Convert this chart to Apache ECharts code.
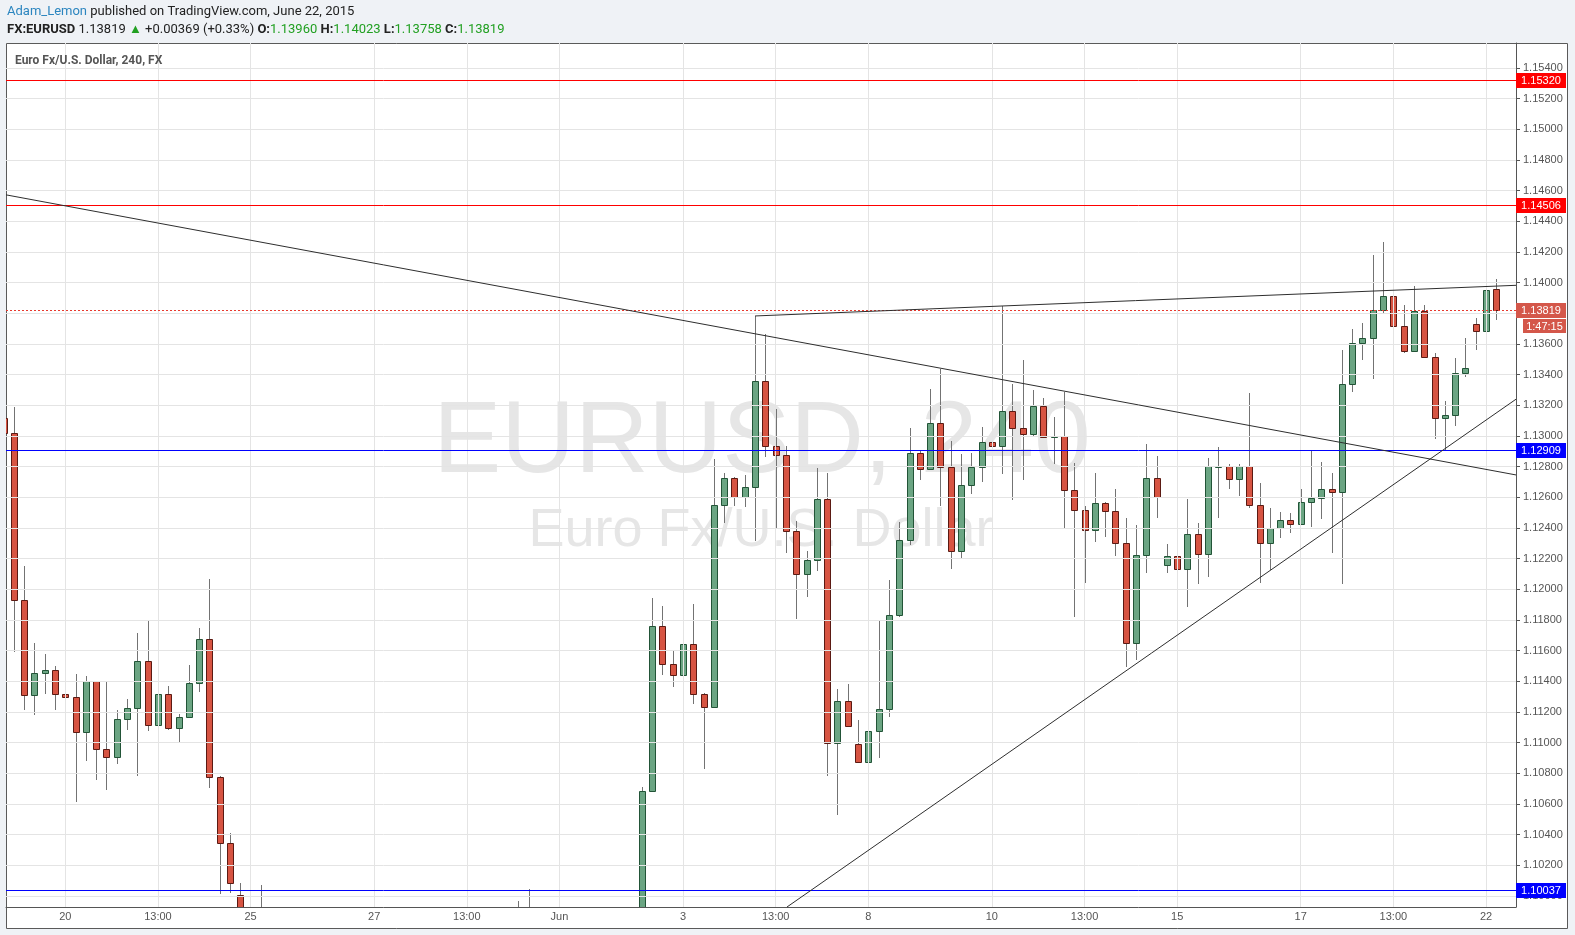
<!DOCTYPE html>
<html>
<head>
<meta charset="utf-8">
<script src="https://cdn.jsdelivr.net/npm/echarts@6/dist/echarts.min.js"></script>
<style>
html,body{margin:0;padding:0;background:#eff2f6;}
#chart{width:1575px;height:935px;}
</style>
</head>
<body>
<div id="chart"></div>
<script>
// ---- data (4H candles, index 0 = May 19 01:00, 6 candles per weekday) ----
const CANDLE_OPEN = [
 1.13115,1.13018,1.11930,1.11311,1.11452,1.11474,
 1.11317,1.11298,1.11070,1.11402,1.10959,1.10907,
 1.11154,1.11226,1.11532,1.11115,1.11317,1.11096,
 1.11167,1.11389,1.11676,1.10777,1.10347,1.10008,
 1.09850,1.09700,1.09760,1.09640,1.09530,1.09450,
 1.09480,1.09350,1.09100,1.08980,1.08750,1.08850,
 1.08800,1.08700,1.08450,1.08350,1.08700,1.08900,
 1.08980,1.08950,1.08870,1.09000,1.09150,1.09250,
 1.09200,1.09330,1.09550,1.09500,1.09650,1.09800,
 1.09850,1.09600,1.09400,1.09150,1.09000,1.09200,
 1.09350,1.09300,1.09550,1.10682,1.11763,1.11511,
 1.11439,1.11641,1.11319,1.11234,1.12548,1.12726,
 1.12604,1.12669,1.13357,1.12935,1.12876,1.12380,
 1.12102,1.12189,1.12591,1.10997,1.11273,1.10991,
 1.10873,1.11074,1.11221,1.11832,1.12322,1.12887,
 1.12783,1.13083,1.12796,1.12248,1.12678,1.12796,
 1.12959,1.12933,1.13161,1.13050,1.13015,1.13194,
 1.12995,1.13002,1.12646,1.12515,1.12385,1.12561,
 1.12509,1.12300,1.11651,1.12222,1.12724,1.12157,
 1.12215,1.12130,1.12359,1.12228,1.12802,1.12805,
 1.12718,1.12802,1.12548,1.12300,1.12398,1.12450,
 1.12424,1.12568,1.12594,1.12652,1.12633,1.13337,
 1.13605,1.13637,1.13820,1.13911,1.13716,1.13553,
 1.13815,1.13513,1.13115,1.13135,1.13409,1.13729,
 1.13683,1.13960
];
const CANDLE_HIGH = [
 1.13150,1.13191,1.12153,1.11650,1.11580,1.11502,
 1.11508,1.11450,1.11436,1.11405,1.11404,1.11215,
 1.11287,1.11717,1.11795,1.11395,1.11371,1.11189,
 1.11508,1.11749,1.12068,1.10780,1.10412,1.10081,
 1.09900,1.10068,1.09850,1.09720,1.09620,1.09520,
 1.09550,1.09400,1.09250,1.09050,1.08900,1.08920,
 1.08880,1.08760,1.08600,1.08750,1.09000,1.09050,
 1.09100,1.09080,1.09050,1.09200,1.09300,1.09350,
 1.09380,1.09600,1.09964,1.10047,1.09850,1.09900,
 1.09880,1.09700,1.09450,1.09300,1.09250,1.09400,
 1.09450,1.09600,1.10708,1.11945,1.11893,1.11598,
 1.11763,1.11906,1.11325,1.12852,1.12761,1.12730,
 1.12748,1.13783,1.13667,1.13174,1.12935,1.12448,
 1.12248,1.12793,1.12761,1.11352,1.11384,1.11147,
 1.11108,1.11795,1.12061,1.12436,1.13052,1.12909,
 1.13307,1.13437,1.12967,1.12883,1.12887,1.13059,
 1.13007,1.13846,1.13337,1.13496,1.13300,1.13246,
 1.13124,1.13285,1.12824,1.12541,1.12759,1.12567,
 1.12654,1.12465,1.12419,1.12948,1.12870,1.12296,
 1.12220,1.12589,1.12431,1.12857,1.12926,1.12815,
 1.12815,1.13281,1.12693,1.12530,1.12502,1.12496,
 1.12654,1.12909,1.12828,1.12757,1.13561,1.13698,
 1.13735,1.14183,1.14266,1.14344,1.13853,1.13977,
 1.13855,1.13540,1.13228,1.13509,1.13641,1.13768,
 1.13974,1.14023
];
const CANDLE_LOW = [
 1.12990,1.11588,1.11210,1.11178,1.11315,1.11210,
 1.11243,1.10611,1.10878,1.10754,1.10689,1.10859,
 1.11085,1.10785,1.11074,1.11041,1.11085,1.11002,
 1.11158,1.11328,1.10705,1.10012,1.10021,1.09780,
 1.09620,1.09650,1.09600,1.09500,1.09380,1.09360,
 1.09300,1.09050,1.08900,1.08700,1.08680,1.08760,
 1.08650,1.08400,1.08190,1.08300,1.08650,1.08850,
 1.08880,1.08820,1.08800,1.08950,1.09050,1.09150,
 1.09120,1.09280,1.09420,1.09380,1.09550,1.09700,
 1.09550,1.09350,1.09000,1.08870,1.08950,1.09150,
 1.09200,1.09250,1.09500,1.10675,1.11439,1.11361,
 1.11434,1.11252,1.10828,1.11226,1.12434,1.12543,
 1.12539,1.12313,1.12861,1.12395,1.12235,1.11808,
 1.11952,1.12119,1.10784,1.10528,1.11100,1.10868,
 1.10868,1.10898,1.11169,1.11821,1.12289,1.12713,
 1.12780,1.12545,1.12130,1.12196,1.12624,1.12702,
 1.12746,1.12750,1.12583,1.12713,1.13002,1.12989,
 1.12819,1.12395,1.11817,1.12039,1.12307,1.12343,
 1.12219,1.11493,1.11539,1.12108,1.12467,1.12108,
 1.11939,1.11883,1.12033,1.12082,1.12467,1.12654,
 1.12609,1.12528,1.12039,1.12126,1.12333,1.12369,
 1.12420,1.12404,1.12457,1.12235,1.12033,1.13289,
 1.13494,1.13370,1.13800,1.13389,1.13540,1.13550,
 1.13510,1.12982,1.12909,1.13067,1.13387,1.13561,
 1.13674,1.13758
];
const CANDLE_CLOSE = [
 1.13018,1.11930,1.11311,1.11454,1.11474,1.11317,
 1.11298,1.11070,1.11402,1.10959,1.10907,1.11154,
 1.11226,1.11532,1.11115,1.11317,1.11096,1.11167,
 1.11389,1.11676,1.10777,1.10347,1.10081,1.09850,
 1.09700,1.09760,1.09640,1.09530,1.09450,1.09480,
 1.09350,1.09100,1.08980,1.08750,1.08850,1.08800,
 1.08700,1.08450,1.08350,1.08700,1.08900,1.08980,
 1.08950,1.08870,1.09000,1.09150,1.09250,1.09200,
 1.09330,1.09550,1.09500,1.09650,1.09800,1.09850,
 1.09600,1.09400,1.09150,1.09000,1.09200,1.09350,
 1.09300,1.09550,1.10682,1.11763,1.11511,1.11439,
 1.11641,1.11319,1.11234,1.12548,1.12726,1.12604,
 1.12669,1.13357,1.12935,1.12876,1.12380,1.12102,
 1.12189,1.12591,1.10997,1.11273,1.11106,1.10873,
 1.11074,1.11221,1.11832,1.12322,1.12887,1.12783,
 1.13083,1.12796,1.12248,1.12678,1.12796,1.12959,
 1.12933,1.13161,1.13050,1.13015,1.13194,1.12995,
 1.13002,1.12646,1.12515,1.12385,1.12561,1.12509,
 1.12300,1.11651,1.12222,1.12724,1.12604,1.12215,
 1.12130,1.12359,1.12228,1.12802,1.12805,1.12718,
 1.12802,1.12548,1.12300,1.12398,1.12450,1.12424,
 1.12568,1.12594,1.12652,1.12633,1.13337,1.13605,
 1.13637,1.13820,1.13911,1.13716,1.13553,1.13813,
 1.13513,1.13115,1.13135,1.13409,1.13442,1.13683,
 1.13950,1.13819
];

const X_TICK_INDEX = [6, 15, 24, 36, 45, 54, 66, 75, 84, 96, 105, 114, 126, 135, 144];
const X_TICK_LABEL = ['20','13:00','25','27','13:00','Jun','3','13:00','8','10','13:00','15','17','13:00','22'];
const Y_TICKS = [1.100,1.102,1.104,1.106,1.108,1.110,1.112,1.114,1.116,1.118,1.120,1.122,1.124,1.126,1.128,
                 1.130,1.132,1.134,1.136,1.138,1.140,1.142,1.144,1.146,1.148,1.150,1.152,1.154];

const RED_LEVELS = [1.15320, 1.14506];
const BLUE_LEVELS = [1.12909, 1.10037];
const LAST_PRICE = 1.13819;
const COUNTDOWN = '1:47:15';
// trend lines: [[index, price], [index, price]]
const TREND_LINES = [
  [[0.24, 1.14573], [146.91, 1.12746]],
  [[76.10, 1.099276], [146.91, 1.13240]],
  [[73, 1.13783], [146.91, 1.13983]]
];

const X_MIN = 0.24, X_MAX = 146.91;
const Y_MIN = 1.099276, Y_MAX = 1.155636;

const candleData = CANDLE_OPEN.map((o, i) => [i, o, CANDLE_CLOSE[i], CANDLE_LOW[i], CANDLE_HIGH[i]]);
const labelMap = {};
X_TICK_INDEX.forEach((v, i) => labelMap[v] = X_TICK_LABEL[i]);

const chart = echarts.init(document.getElementById('chart'), null, {renderer: 'canvas'});

function renderCandle(params, api) {
  const x = api.value(0), o = api.value(1), c = api.value(2), l = api.value(3), h = api.value(4);
  const pO = api.coord([x, o]), pC = api.coord([x, c]), pL = api.coord([x, l]), pH = api.coord([x, h]);
  const cx = Math.round(pO[0]);
  const up = c >= o;
  const top = Math.round(Math.min(pO[1], pC[1]));
  const bot = Math.round(Math.max(pO[1], pC[1]));
  return {
    type: 'group',
    children: [
      {type: 'line', shape: {x1: cx + 0.5, y1: Math.round(pH[1]), x2: cx + 0.5, y2: Math.round(pL[1])},
       style: {stroke: '#737373', lineWidth: 1}},
      {type: 'rect', shape: {x: cx - 3 + 0.5, y: top + 0.5, width: 6, height: Math.max(bot - top, 1)},
       style: {fill: up ? '#6ba583' : '#d75442', stroke: up ? '#225437' : '#5b1a13', lineWidth: 1}}
    ]
  };
}

const gridLineData = Y_TICKS.map(v => ({yAxis: v}))
  .concat(X_TICK_INDEX.map(v => ({xAxis: v})));

const levelLines = [];
RED_LEVELS.forEach(v => levelLines.push({yAxis: v, lineStyle: {color: '#ff0000', width: 1, type: 'solid'}}));
BLUE_LEVELS.forEach(v => levelLines.push({yAxis: v, lineStyle: {color: '#0000ff', width: 1, type: 'solid'}}));
levelLines.push({yAxis: LAST_PRICE, lineStyle: {color: '#e8392e', width: 1, type: [2, 2]}});
TREND_LINES.forEach(t => levelLines.push([{coord: t[0]}, {coord: t[1]}]));

const FONT = '"Liberation Sans", Arial, sans-serif';

chart.setOption({
  animation: false,
  backgroundColor: '#eff2f6',
  grid: {left: 6, right: 59, top: 43, bottom: 28, containLabel: false},
  xAxis: {
    type: 'value', min: X_MIN, max: X_MAX,
    axisLine: {show: true, onZero: false, lineStyle: {color: '#555555', width: 1}},
    axisTick: {show: false},
    splitLine: {show: false},
    axisLabel: {
      customValues: X_TICK_INDEX,
      formatter: v => labelMap[Math.round(v)] || '',
      color: '#555555', fontSize: 11, fontFamily: FONT, margin: 4
    }
  },
  yAxis: {
    type: 'value', position: 'right', min: Y_MIN, max: Y_MAX, scale: true,
    axisLine: {show: true, lineStyle: {color: '#555555', width: 1}},
    axisTick: {show: true, customValues: Y_TICKS, length: 4, lineStyle: {color: '#555555'}},
    splitLine: {show: false},
    axisLabel: {
      customValues: Y_TICKS,
      formatter: v => Number(v).toFixed(5),
      color: '#555555', fontSize: 11, fontFamily: FONT, margin: 7
    }
  },
  series: [
    {
      type: 'line', data: [], z: 1, silent: true,
      markLine: {
        silent: true, symbol: 'none', animation: false, precision: 6,
        label: {show: false},
        lineStyle: {color: '#e4e4e4', width: 1, type: 'solid'},
        data: gridLineData
      }
    },
    {
      type: 'custom', z: 3, clip: true, silent: true,
      renderItem: renderCandle,
      encode: {x: 0, y: [1, 2, 3, 4]},
      data: candleData
    },
    {
      type: 'line', data: [], z: 4, silent: true,
      markLine: {
        silent: true, symbol: 'none', animation: false, precision: 6,
        label: {show: false},
        lineStyle: {color: '#2e2e2e', width: 1, type: 'solid'},
        data: levelLines
      }
    }
  ]
});

// annotation boxes on the price scale, positioned through the axis scale
function yPix(v) { return chart.convertToPixel({yAxisIndex: 0}, v); }
const boxes = [];
function priceBox(id, v, text, color) {
  const y = Math.round(yPix(v));
  boxes.push({type: 'rect', id: id + 'r', z: 50, shape: {x: 1516, y: y - 7, width: 50, height: 15}, style: {fill: color}});
  boxes.push({type: 'text', id: id + 't', z: 51, style: {text: text, x: 1541, y: y + 0.5, align: 'center', verticalAlign: 'middle', fill: '#ffffff', font: '11px ' + FONT}});
}
RED_LEVELS.forEach((v, i) => priceBox('red' + i, v, v.toFixed(5), '#ff0000'));
BLUE_LEVELS.forEach((v, i) => priceBox('blue' + i, v, v.toFixed(5), '#0000ff'));
priceBox('last', LAST_PRICE, LAST_PRICE.toFixed(5), '#d4574a');
const yl = Math.round(yPix(LAST_PRICE));
boxes.push({type: 'rect', id: 'cdr', z: 50, shape: {x: 1523, y: yl + 9, width: 43, height: 14}, style: {fill: '#d4574a'}});
boxes.push({type: 'text', id: 'cdt', z: 51, style: {text: COUNTDOWN, x: 1544.5, y: yl + 16.5, align: 'center', verticalAlign: 'middle', fill: '#ffffff', font: '11px ' + FONT}});

const graphics = [
  {type: 'rect', id: 'panel', z: -10, silent: true, shape: {x: 6.5, y: 43.5, width: 1561, height: 885},
   style: {fill: '#ffffff', stroke: '#5a5a5a', lineWidth: 1}},
  {type: 'text', id: 'wm1', z: -5, silent: true,
   style: {text: 'EURUSD, 240', x: 762, y: 444, align: 'center', verticalAlign: 'middle', fill: '#e6e6e6', font: '102px ' + FONT}},
  {type: 'text', id: 'wm2', z: -5, silent: true,
   style: {text: 'Euro Fx/U.S. Dollar', x: 761, y: 531, align: 'center', verticalAlign: 'middle', fill: '#e6e6e6', font: '54px ' + FONT}},
  {type: 'text', id: 'title', z: 20, silent: true,
   style: {text: 'Euro Fx/U.S. Dollar, 240, FX', x: 15, y: 61, verticalAlign: 'middle', fill: '#555555', font: 'bold 12px Roboto, sans-serif'}},
  {type: 'text', id: 'h1', z: 20, silent: true,
   style: {x: 7, y: 12, verticalAlign: 'middle',
     text: '{a|Adam_Lemon}{b| published on TradingView.com, June 22, 2015}',
     rich: {
       a: {fill: '#2b85bf', font: '13px Roboto, sans-serif'},
       b: {fill: '#222222', font: '13px Roboto, sans-serif'}
     }}},
  {type: 'text', id: 'h2', z: 20, silent: true,
   style: {x: 7, y: 30, verticalAlign: 'middle',
     text: '{k|FX:EURUSD}{n| 1.13819 }{g|▲}{n| +0.00369 (+0.33%) }{k|O:}{g|1.13960}{k| H:}{g|1.14023}{k| L:}{g|1.13758}{k| C:}{g|1.13819}',
     rich: {
       k: {fill: '#222222', font: 'bold 13px Roboto, sans-serif'},
       n: {fill: '#222222', font: '13px Roboto, sans-serif'},
       g: {fill: '#22a022', font: '13px Roboto, sans-serif'}
     }}}
].concat(boxes);

chart.setOption({graphic: graphics});
</script>
</body>
</html>
